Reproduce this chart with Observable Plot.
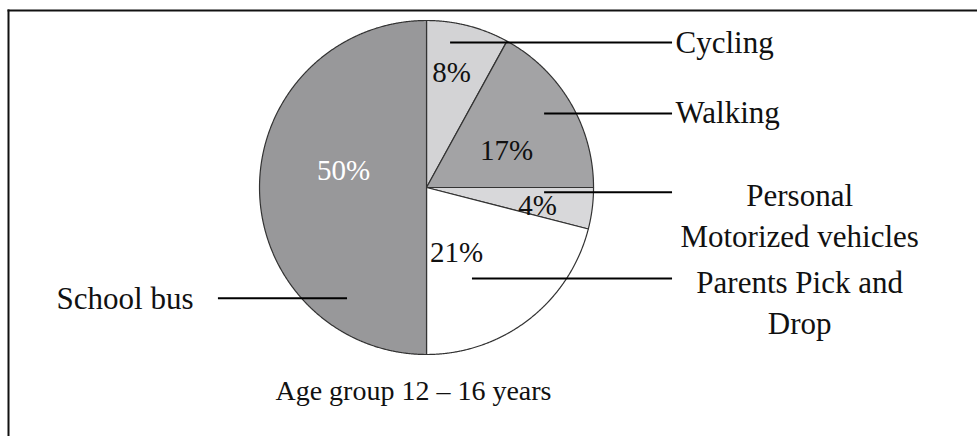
<!DOCTYPE html>
<html>
<head>
<meta charset="utf-8">
<script src="https://cdn.jsdelivr.net/npm/d3@7"></script>
<script src="https://cdn.jsdelivr.net/npm/@observablehq/plot@0.6"></script>
<style>
  html, body { margin: 0; padding: 0; background: #fff; }
</style>
</head>
<body>
<div id="chart"></div>
<script>
// ---- data ----
const categories = ["Cycling", "Walking", "Personal Motorized vehicles", "Parents Pick and Drop", "School bus"];
const shares = [8, 17, 4, 21, 50];
const categoryLabels = ["Cycling", "Walking", "Personal\nMotorized vehicles", "Parents Pick and\nDrop", "School bus"];
const captionText = "Age group 12 – 16 years";

// ---- styles ----
const sliceFills = ["#d3d3d5", "#a3a3a5", "#d8d8da", "#ffffff", "#98989a"];
const pctColors = ["#111", "#111", "#111", "#111", "#ffffff"];

// ---- layout (in pie-radius units, centre = 0,0) ----
const pctPos = [[0.150, 0.689], [0.479, 0.222], [0.665, -0.108], [0.180, -0.389], [-0.497, 0.102]];
const leaderPos = [
  {x1: 0.144, x2: 1.473, y: 0.868},
  {x1: 0.707, x2: 1.473, y: 0.443},
  {x1: 0.707, x2: 1.473, y: -0.028},
  {x1: 0.275, x2: 1.473, y: -0.545},
  {x1: -1.246, x2: -0.473, y: -0.663}
];
const labelPos = [
  {x: 1.491, y: 0.862, anchor: "start"},
  {x: 1.491, y: 0.443, anchor: "start"},
  {x: 2.234, y: -0.156, anchor: "middle"},
  {x: 2.234, y: -0.677, anchor: "middle"},
  {x: -1.395, y: -0.671, anchor: "end"}
];

// ---- geometry from data ----
const arcs = d3.pie().sort(null).value(d => d)(shares);
const slicePts = arcs.flatMap((a, i) => {
  const pts = [{u: 0, v: 0, name: categories[i]}];
  const n = Math.max(2, Math.ceil((a.endAngle - a.startAngle) / 0.005));
  for (let k = 0; k <= n; k++) {
    const t = a.startAngle + (a.endAngle - a.startAngle) * k / n;
    pts.push({u: Math.sin(t), v: Math.cos(t), name: categories[i]});
  }
  pts.push({u: 0, v: 0, name: categories[i]});
  return pts;
});

const pctData = shares.map((s, i) => ({text: s + "%", u: pctPos[i][0], v: pctPos[i][1], color: pctColors[i]}));
const leaders = categories.map((c, i) => ({name: c, ...leaderPos[i]}));
const labels = categoryLabels.map((t, i) => ({text: t, ...labelPos[i]}));

const font = "Liberation Serif, Times New Roman, serif";

const plot = Plot.plot({
  width: 977,
  height: 436,
  marginTop: 10,
  marginLeft: 8,
  marginRight: 0,
  marginBottom: 0,
  x: {domain: [-2.503, 3.299], axis: null},
  y: {domain: [-1.491, 1.0599], axis: null},
  color: {domain: categories, range: sliceFills},
  style: {fontFamily: font, background: "#fff", overflow: "visible"},
  marks: [
    Plot.frame({anchor: "top", stroke: "#111", strokeWidth: 2}),
    Plot.frame({anchor: "left", stroke: "#111", strokeWidth: 2}),
    Plot.line(slicePts, {x: "u", y: "v", z: "name", fill: "name", stroke: "#333", strokeWidth: 1.2, strokeLinejoin: "round"}),
    Plot.ruleY(leaders, {y: "y", x1: "x1", x2: "x2", stroke: "#000", strokeWidth: 2}),
    Plot.text(pctData, {x: "u", y: "v", text: "text", fill: d => d.color, fontSize: 29, fontFamily: font}),
    Plot.text(labels.filter(d => d.anchor === "start"), {x: "x", y: "y", text: "text", textAnchor: "start", fill: "#111", fontSize: 31, fontFamily: font}),
    Plot.text(labels.filter(d => d.anchor === "middle"), {x: "x", y: "y", text: "text", textAnchor: "middle", lineHeight: 1.3, fill: "#111", fontSize: 31, fontFamily: font}),
    Plot.text(labels.filter(d => d.anchor === "end"), {x: "x", y: "y", text: "text", textAnchor: "end", fill: "#111", fontSize: 31, fontFamily: font}),
    Plot.text([captionText], {x: -0.078, y: -1.216, text: d => d, fill: "#111", fontSize: 28, fontFamily: font})
  ]
});
document.getElementById("chart").appendChild(plot);
</script>
</body>
</html>
